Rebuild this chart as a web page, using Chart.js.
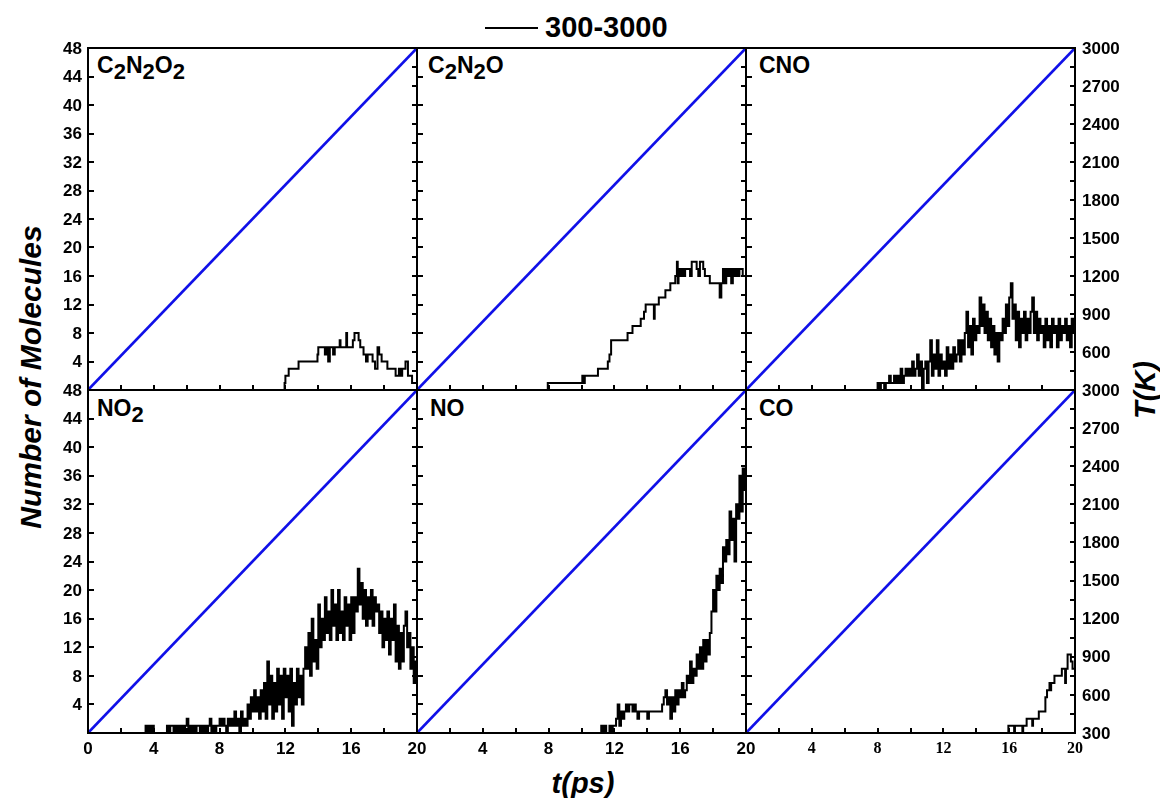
<!DOCTYPE html>
<html lang="en">
<head>
<meta charset="UTF-8">
<title>Number of Molecules vs t(ps)</title>
<style>
  body { margin: 0; background: #fff; font-family: "Liberation Sans", Arial, sans-serif; }
  #wrap { position: relative; width: 1160px; height: 798px; overflow: hidden; }
  #wrap canvas { position: absolute; left: 0; top: 0; }
  .txt { position: absolute; font-weight: bold; color: #000; white-space: nowrap; }
  .lab { font-size: 23px; line-height: 23px; }
  .lab sub { font-size: 22px; vertical-align: -6px; line-height: 0; }
  .ttl { font-size: 29px; font-style: italic; line-height: 30px; transform: translate(-50%, -50%); }
  .rot { transform: translate(-50%, -50%) rotate(-90deg); }
  #legline { position: absolute; left: 485px; top: 27px; width: 53px; height: 2px; background: #000; }
</style>
<script src="https://cdn.jsdelivr.net/npm/chart.js@4.4.0/dist/chart.umd.min.js"></script>
</head>
<body>
<div id="wrap">
  <div id="legline"></div>
  <div class="txt" style="left:545px; top:12px; font-size:29px; line-height:30px;">300-3000</div>
  <div class="txt ttl rot" style="left:31px; top:377px; font-size:30px;">Number of Molecules</div>
  <div class="txt ttl" style="left:583px; top:783px;">t(ps)</div>
  <div class="txt ttl rot" style="left:1145px; top:390px;">T(K)</div>

  <div class="txt lab" style="left:97px; top:54px;">C<sub>2</sub>N<sub>2</sub>O<sub>2</sub></div>
  <div class="txt lab" style="left:428px; top:54px;">C<sub>2</sub>N<sub>2</sub>O</div>
  <div class="txt lab" style="left:759px; top:54px;">CNO</div>
  <div class="txt lab" style="left:97px; top:397px;">NO<sub>2</sub></div>
  <div class="txt lab" style="left:430px; top:397px;">NO</div>
  <div class="txt lab" style="left:759px; top:397px;">CO</div>
</div>

<script>
// tick labels
const timeTicks = [0, 4, 8, 12, 16, 20];
const countTicks = [0, 4, 8, 12, 16, 20, 24, 28, 32, 36, 40, 44, 48];
const tempTicks = [300, 600, 900, 1200, 1500, 1800, 2100, 2400, 2700, 3000];

// heating ramp 300 -> 3000 K over 20 ps
const rampTime = [0, 20];
const rampTemp = [300, 3000];

// sparse step series: time of change, new count
const c2n2o2Time = [0, 11.9, 11.95, 12.0, 12.2, 12.8, 13.95, 14.0, 14.4, 14.5, 14.6, 14.7, 14.9, 15.0, 15.3, 15.35, 15.6, 15.7, 15.75, 16.1, 16.2, 16.45, 16.55, 16.75, 16.9, 17.0, 17.1, 17.3, 17.45, 17.6, 17.7, 17.85, 18.0, 18.2, 18.3, 18.7, 18.9, 19.0, 19.1, 19.3, 19.45, 19.55, 19.7, 20];
const c2n2o2N    = [0, 0,    1,     2,    3,    4,    5,     6,    5,    6,    4,    6,    5,    6,    7,    6,     6,    8,    6,     7,    8,    7,     6,     5,     4,    5,    5,    4,    3,     6,    5,    4,     4,    3,    3,    2,    3,    2,    3,    4,    2,     2,     1,    1];

const c2n2oTime = [0, 7.95, 10.0, 10.05, 10.1, 10.2, 11.0, 11.6, 11.7, 11.8, 12.1, 12.8, 13.1, 13.6, 13.8, 13.9, 14.4, 14.45, 14.7, 15.1, 15.4, 15.7, 15.8, 15.85, 15.9, 16.0, 16.1, 16.2, 16.3, 16.6, 16.7, 16.9, 17.0, 17.1, 17.2, 17.4, 17.5, 17.8, 18.3, 18.4, 18.5, 18.6, 18.7, 18.8, 18.9, 19.0, 19.1, 19.2, 19.3, 19.4, 19.5, 19.6, 19.8, 20];
const c2n2oN    = [0, 1,    1,    2,     1,    2,    3,    4,    5,    7,    7,    8,    9,    10,   11,   12,   10,   12,    13,   14,   15,   16,   18,   15,    17,   16,   17,   16,   17,   16,   18,   18,   17,   16,   18,   17,   16,   15,   15,   13,   15,   17,   15,   17,   16,   17,   15,   17,   16,   17,   16,   17,   16,   16];

const coTime = [0, 15.95, 16.3, 16.35, 16.8, 16.85, 17.06, 17.4, 17.45, 17.8, 18.2, 18.3, 18.45, 18.5, 18.55, 18.75, 19.2, 19.4, 19.45, 19.55, 19.75, 19.85, 20];
const coN    = [0, 1,     0,    1,     0,    1,     2,     1,    2,     3,    5,    6,    7,     6,    7,     8,     9,    7,    9,     11,    10,    9,     10];

// dense noisy series sampled every 0.1 ps from a start time
const sampleStep = 0.1;
const cnoStart = 7.8;
const cnoN = [0, 0, 1, 0, 1, 1, 0, 1, 1, 2, 1, 1, 2, 1, 2, 1, 3, 1, 2, 3,
  2, 3, 2, 4, 2, 3, 5, 2, 4, 0, 3, 4, 1, 4, 7, 2, 5, 3, 7, 2,
  5, 3, 4, 2, 6, 3, 5, 3, 6, 4, 5, 7, 4, 7, 5, 8, 11, 6, 9, 5,
  10, 7, 9, 8, 13, 9, 12, 8, 11, 7, 10, 6, 9, 5, 8, 4, 8, 7, 10, 8,
  12, 9, 13, 15, 10, 12, 7, 11, 6, 10, 8, 11, 7, 10, 8, 11, 13, 8, 11, 7,
  10, 8, 9, 6, 10, 7, 9, 6, 10, 8, 9, 6, 10, 7, 9, 8, 10, 7, 9, 6,
  10, 8, 9];

const no2Start = 3.4;
const no2N = [0, 1, 0, 1, 0, 1, 0, 0, 0, 0, 0, 0, 0, 0, 1, 0, 1, 1, 0, 1,
  0, 1, 0, 1, 0, 1, 2, 0, 1, 0, 1, 0, 1, 1, 0, 1, 0, 1, 0, 1,
  2, 0, 1, 0, 1, 1, 2, 1, 2, 1, 0, 2, 1, 2, 1, 3, 1, 2, 0, 3,
  1, 2, 1, 4, 2, 5, 3, 6, 3, 5, 2, 6, 3, 7, 2, 10, 4, 8, 2, 7,
  3, 9, 4, 8, 2, 9, 5, 8, 3, 9, 1, 7, 4, 9, 5, 8, 4, 9, 12, 9,
  14, 8, 16, 10, 13, 9, 18, 12, 16, 13, 19, 14, 17, 13, 20, 15, 18, 13, 20, 14,
  17, 13, 19, 15, 18, 13, 19, 14, 19, 17, 23, 18, 21, 16, 20, 15, 19, 16, 20, 15,
  19, 17, 18, 14, 17, 12, 16, 13, 17, 11, 16, 13, 18, 10, 15, 9, 14, 10, 15, 17,
  12, 14, 9, 12, 7, 10, 6];

const noStart = 11.0;
const noN = [0, 0, 1, 0, 1, 0, 0, 1, 0, 1, 1, 2, 4, 1, 3, 2, 3, 4, 3, 4,
  4, 3, 4, 3, 2, 3, 3, 3, 3, 3, 2, 3, 3, 3, 3, 3, 3, 3, 3, 4,
  5, 6, 4, 5, 2, 5, 3, 6, 4, 6, 5, 7, 5, 6, 8, 7, 10, 7, 9, 8,
  11, 9, 12, 9, 13, 10, 13, 11, 14, 17, 20, 17, 22, 20, 23, 21, 26, 24, 27, 25,
  31, 27, 30, 24, 32, 30, 36, 31, 37, 34, 39];

function pairs(ts, vs) {
  return ts.map((t, i) => ({ x: t, y: vs[i] }));
}
function sampled(start, vs) {
  const pts = [{ x: 0, y: 0 }];
  vs.forEach((v, i) => pts.push({ x: +(start + i * sampleStep).toFixed(2), y: v }));
  return pts;
}

const panels = [
  { data: pairs(c2n2o2Time, c2n2o2N), row: 0, col: 0 },
  { data: pairs(c2n2oTime, c2n2oN), row: 0, col: 1 },
  { data: sampled(cnoStart, cnoN), row: 0, col: 2 },
  { data: sampled(no2Start, no2N), row: 1, col: 0 },
  { data: sampled(noStart, noN), row: 1, col: 1 },
  { data: pairs(coTime, coN), row: 1, col: 2 }
];

const W = 1160, H = 798;
const colLeft = [88, 417, 746], colWidth = 329;
const rowTop = [48, 390], rowBottom = [390, 733];
const sansBold = 'bold 17px "Liberation Sans", Arial, sans-serif';
const serifBold = 'bold 16px "Liberation Serif", "Times New Roman", serif';

// frame, inward ticks and the outer tick labels of each panel
const framePlugin = {
  id: 'frame',
  afterDraw(chart, args, opts) {
    const ctx = chart.ctx, a = chart.chartArea;
    const sx = chart.scales.x, sy = chart.scales.y, sk = chart.scales.yT;
    const row = opts.row, col = opts.col;
    ctx.save();
    ctx.strokeStyle = '#000';
    ctx.lineWidth = 2;
    ctx.beginPath();
    for (let t = 2; t < 20; t += 2) {
      const px = Math.round(sx.getPixelForValue(t));
      ctx.moveTo(px, a.bottom);
      ctx.lineTo(px, a.bottom - 5);
    }
    countTicks.slice(1, -1).forEach(n => {
      const py = Math.round(sy.getPixelForValue(n));
      ctx.moveTo(a.left, py);
      ctx.lineTo(a.left + 6, py);
    });
    for (let k = 450; k < 3000; k += 150) {
      const py = Math.round(sk.getPixelForValue(k));
      ctx.moveTo(a.right, py);
      ctx.lineTo(a.right - 5, py);
    }
    ctx.stroke();
    ctx.strokeRect(a.left, a.top, a.right - a.left, a.bottom - a.top);

    ctx.fillStyle = '#000';
    if (col === 0) {
      ctx.font = sansBold;
      ctx.textAlign = 'right';
      ctx.textBaseline = 'middle';
      countTicks.forEach(n => {
        if (n === 0) return;
        ctx.fillText(String(n), a.left - 6, sy.getPixelForValue(n) + 1);
      });
    }
    if (col === 2) {
      ctx.font = sansBold;
      ctx.textAlign = 'left';
      ctx.textBaseline = 'middle';
      tempTicks.forEach(k => {
        if (row === 0 && k === 300) return;
        ctx.fillText(String(k), a.right + 7, sk.getPixelForValue(k) + 1);
      });
    }
    if (row === 1) {
      ctx.font = col === 2 ? serifBold : sansBold;
      ctx.textAlign = 'center';
      ctx.textBaseline = 'top';
      timeTicks.forEach(t => {
        if (col > 0 && t === 0) return;
        ctx.fillText(String(t), sx.getPixelForValue(t), a.bottom + 8);
      });
    }
    ctx.restore();
  }
};

const wrap = document.getElementById('wrap');

panels.forEach(p => {
  const cv = document.createElement('canvas');
  cv.width = W;
  cv.height = H;
  wrap.appendChild(cv);

  const left = colLeft[p.col], right = left + colWidth;
  const top = rowTop[p.row], bottom = rowBottom[p.row];

  new Chart(cv, {
    type: 'line',
    data: {
      datasets: [
        {
          data: pairs(rampTime, rampTemp),
          yAxisID: 'yT',
          borderColor: '#1010e8',
          borderWidth: 2.6,
          pointRadius: 0,
          order: 0
        },
        {
          data: p.data,
          yAxisID: 'y',
          stepped: true,
          borderColor: '#000',
          borderWidth: 2,
          pointRadius: 0,
          order: 1
        }
      ]
    },
    options: {
      responsive: false,
      devicePixelRatio: 1,
      animation: false,
      events: [],
      layout: { padding: { left: left, right: W - right, top: top, bottom: H - bottom } },
      plugins: {
        legend: { display: false },
        tooltip: { enabled: false },
        frame: { row: p.row, col: p.col }
      },
      scales: {
        x: {
          type: 'linear', position: 'bottom', min: 0, max: 20,
          afterFit: s => { s.height = 0; },
          grid: { display: false, drawTicks: false },
          border: { display: false },
          ticks: { display: false }
        },
        y: {
          type: 'linear', position: 'left', min: 0, max: 48,
          afterFit: s => { s.width = 0; },
          grid: { display: false, drawTicks: false },
          border: { display: false },
          ticks: { display: false }
        },
        yT: {
          type: 'linear', position: 'right', min: 300, max: 3000,
          afterFit: s => { s.width = 0; },
          grid: { display: false, drawTicks: false },
          border: { display: false },
          ticks: { display: false }
        }
      }
    },
    plugins: [framePlugin]
  });
});
</script>
</body>
</html>
